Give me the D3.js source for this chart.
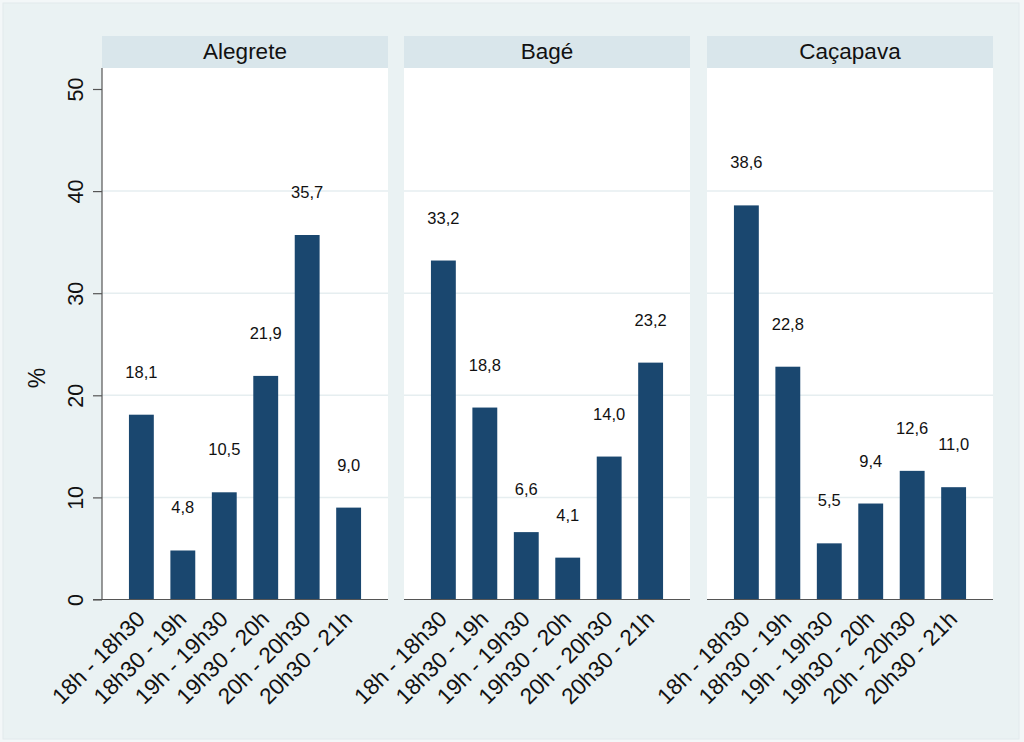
<!DOCTYPE html>
<html><head><meta charset="utf-8">
<script src="https://cdn.jsdelivr.net/npm/d3@7"></script>
<style>body{margin:0;background:#f3f7f8;}svg{display:block;font-family:"Liberation Sans",Arial,sans-serif;}</style>
</head><body>
<svg id="chart" width="1024" height="742"></svg>
<script>
const panels = ["Alegrete", "Bagé", "Caçapava"];
const categories = ["18h - 18h30", "18h30 - 19h", "19h - 19h30", "19h30 - 20h", "20h - 20h30", "20h30 - 21h"];
const alegrete = [18.1, 4.8, 10.5, 21.9, 35.7, 9.0];
const bage = [33.2, 18.8, 6.6, 4.1, 14.0, 23.2];
const cacapava = [38.6, 22.8, 5.5, 9.4, 12.6, 11.0];
const yTicks = [0, 10, 20, 30, 40, 50];
const gridTicks = [10, 20, 30, 40];
const yTitle = "%";
const seriesByPanel = [alegrete, bage, cacapava];

const svg = d3.select("#chart");
svg.append("rect").attr("x", 3).attr("y", 3).attr("width", 1016).attr("height", 736)
  .attr("fill", "#eaf2f3").attr("stroke", "#e2eaec");

const panelLefts = [102, 404, 707];
const panelW = 286;
const stripTop = 36, stripBottom = 68;
const y = d3.scaleLinear().domain([0, 50]).range([599.5, 89]);
const fmt = v => d3.format(".1f")(v).replace(".", ",");

panels.forEach((name, i) => {
  const left = panelLefts[i];
  const g = svg.append("g").attr("transform", `translate(${left},0)`);
  const x = d3.scaleBand().domain(categories).range([0, panelW]).paddingInner(0.4).paddingOuter(0.65);
  g.append("rect").attr("x", 0).attr("y", stripBottom).attr("width", panelW).attr("height", y(0) - stripBottom).attr("fill", "#ffffff");
  g.append("rect").attr("x", 0).attr("y", stripTop).attr("width", panelW).attr("height", stripBottom - stripTop).attr("fill", "#d9e6eb");
  g.append("text").attr("x", panelW / 2).attr("y", 59).attr("text-anchor", "middle")
    .attr("font-size", 22.5).attr("fill", "#111").text(name);
  g.selectAll(".grid").data(gridTicks).enter().append("line")
    .attr("x1", 0).attr("x2", panelW).attr("y1", d => y(d)).attr("y2", d => y(d))
    .attr("stroke", "#e6eef0").attr("stroke-width", 1.5);
  const vals = seriesByPanel[i];
  g.selectAll(".bar").data(vals).enter().append("rect")
    .attr("x", (d, j) => x(categories[j])).attr("width", x.bandwidth())
    .attr("y", d => y(d)).attr("height", d => y(0) - y(d)).attr("fill", "#1a476f");
  g.selectAll(".lbl").data(vals).enter().append("text")
    .attr("x", (d, j) => x(categories[j]) + x.bandwidth() / 2)
    .attr("y", d => y(d) - 37).attr("text-anchor", "middle")
    .attr("font-size", 16.5).attr("fill", "#111").text(d => fmt(d));
  const xAxis = g.append("g").attr("transform", `translate(0,${y(0)})`)
    .call(d3.axisBottom(x).tickSize(0).tickPadding(0));
  xAxis.select(".domain").attr("d", `M${i === 0 ? -9 : 0},0H${panelW}`).attr("stroke", "#555").attr("stroke-width", 1.2);
  xAxis.selectAll("text").attr("font-size", 22.5).attr("fill", "#111").attr("font-family", "Liberation Sans, Arial, sans-serif")
    .attr("text-anchor", "end").attr("dy", null).attr("y", 0)
    .attr("transform", "translate(5,21) rotate(-45)");
  if (i === 0) {
    const yAxis = g.append("g").call(d3.axisLeft(y).tickValues(yTicks).tickSize(9).tickPadding(6));
    yAxis.select(".domain").attr("d", `M0,${stripBottom}V${y(0)}`).attr("stroke", "#555").attr("stroke-width", 1.2);
    yAxis.selectAll(".tick line").attr("stroke", "#555").attr("stroke-width", 1.2);
    yAxis.selectAll("text").attr("font-size", 21.5).attr("fill", "#111").attr("font-family", "Liberation Sans, Arial, sans-serif")
      .attr("text-anchor", "middle").attr("x", null).attr("dy", null)
      .attr("transform", "translate(-19,0) rotate(-90)").attr("y", 0);
  }
});

svg.append("text").attr("transform", "translate(45,378) rotate(-90)").attr("text-anchor", "middle")
  .attr("font-size", 23).attr("fill", "#111").text(yTitle);
</script>
</body></html>
